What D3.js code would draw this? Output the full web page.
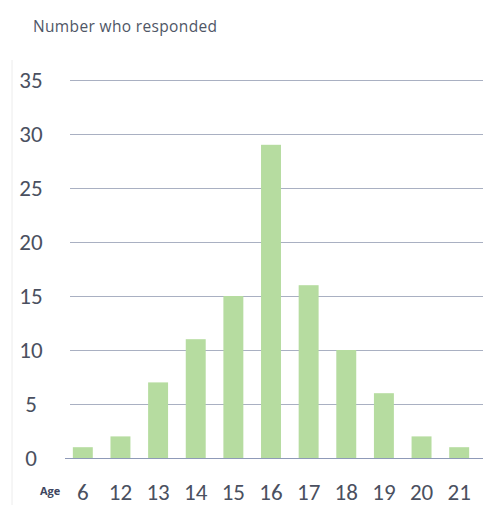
<!DOCTYPE html>
<html><head><meta charset="utf-8">
<script src="https://cdn.jsdelivr.net/npm/d3@7"></script>
<style>body{margin:0;background:#fff}svg{display:block}</style>
</head><body>
<svg id="c" width="485" height="512"></svg>
<script>
const ages = ["6","12","13","14","15","16","17","18","19","20","21"];
const counts = [1,2,7,11,15,29,16,10,6,2,1];
const yTicks = [0,5,10,15,20,25,30,35];
const titleText = "Number who responded";
const xAxisLabel = "Age";

const svg = d3.select("#c");
const x = d3.scaleBand().domain(ages).range([64,478]).paddingInner(0.47).paddingOuter(0.235);
const y = d3.scaleLinear().domain([0,35]).range([458,80]);
const font = "Calibri, Carlito, Lato, 'Liberation Sans', Arial, sans-serif";

// faint scan edge
svg.append("line").attr("x1",12).attr("x2",12).attr("y1",60).attr("y2",505)
  .attr("stroke","#ececec").attr("stroke-width",1);

// gridlines
svg.append("g").selectAll("line").data(yTicks).join("line")
  .attr("x1",d=>d===0?65:70).attr("x2",483)
  .attr("y1",d=>y(d)+0.5).attr("y2",d=>y(d)+0.5)
  .attr("stroke",d=>d===0?"#8f9ab8":"#a9b0c2").attr("stroke-width",1);

// bars
svg.append("g").selectAll("rect").data(ages).join("rect")
  .attr("x",d=>x(d)).attr("width",x.bandwidth())
  .attr("y",(d,i)=>y(counts[i])).attr("height",(d,i)=>y(0)-y(counts[i]))
  .attr("fill","#b6dca0");

// y tick labels
svg.append("g").selectAll("text").data(yTicks).join("text")
  .attr("x",31).attr("y",d=>y(d)).attr("dy","0.36em")
  .attr("text-anchor","middle").attr("font-family",font).attr("font-size",23)
  .attr("fill","#4a5060").text(d=>d);

// x tick labels
svg.append("g").selectAll("text").data(ages).join("text")
  .attr("x",d=>x(d)+x.bandwidth()/2).attr("y",492).attr("dy","0.36em")
  .attr("text-anchor","middle").attr("font-family",font).attr("font-size",23)
  .attr("fill","#4a5060").text(d=>d);

svg.append("text").attr("x",40).attr("y",495).attr("font-family","'Open Sans', sans-serif")
  .attr("font-size",11).attr("font-weight","bold").attr("fill","#3e4660").text(xAxisLabel);

svg.append("text").attr("x",33).attr("y",32).attr("font-family","'Open Sans', sans-serif")
  .attr("font-size",15.5).attr("fill","#4f5666")
  .attr("textLength",184).attr("lengthAdjust","spacing").text(titleText);
</script>
</body></html>
